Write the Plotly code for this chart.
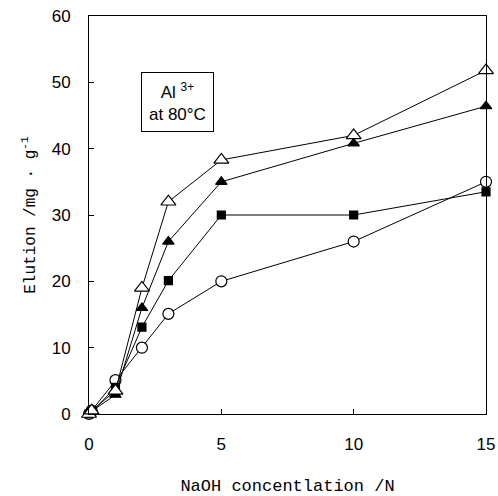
import plotly.graph_objects as go

# NaOH concentration (N)
naoh = [0, 0.1, 1, 2, 3, 5, 10, 15]

# Al3+ elution (mg/g) for four samples
elution_open_tri = [0, 0.5, 3.5, 19.0, 32.0, 38.3, 42.0, 51.8]
elution_filled_tri = [0, 0.4, 2.9, 16.0, 26.0, 35.0, 40.8, 46.4]
elution_filled_sq = [0, 0.3, 4.0, 13.1, 20.1, 30.0, 30.0, 33.5]
elution_open_circ = [0, 0.5, 5.1, 10.0, 15.1, 20.0, 26.0, 35.0]

x_ticks = [0, 5, 10, 15]
y_ticks = [0, 10, 20, 30, 40, 50, 60]

series = [
    (elution_open_circ, "circle", "white", 11),
    (elution_filled_sq, "square", "black", 8),
    (elution_filled_tri, "triangle-up", "black", 10),
    (elution_open_tri, "triangle-up", "white", 13),
]

fig = go.Figure()
for ys, sym, fill, size in series:
    fig.add_trace(go.Scatter(
        x=naoh, y=ys, mode="lines+markers",
        line=dict(color="black", width=1),
        marker=dict(symbol=sym, size=size, color=fill,
                    line=dict(color="black", width=1.2)),
        showlegend=False, cliponaxis=False,
    ))

axis_common = dict(
    showline=True, linecolor="black", linewidth=1, mirror=True,
    ticks="inside", ticklen=5, tickcolor="black", showgrid=False,
    zeroline=False, automargin=False,
    tickfont=dict(family="Liberation Sans", size=17, color="black"),
)

fig.update_xaxes(range=[0, 15], tickvals=x_ticks, ticktext=[str(v) for v in x_ticks],
                 ticklabelstandoff=15,
                 title=dict(text="NaOH concentlation /N", standoff=26,
                            font=dict(family="Liberation Mono", size=17, color="black")),
                 **axis_common)
fig.update_yaxes(range=[0, 60], tickvals=y_ticks, ticktext=[str(v) for v in y_ticks],
                 ticklabelstandoff=14,
                 title=dict(text="Elution /mg · g<sup>-1</sup>", standoff=12,
                            font=dict(family="Liberation Mono", size=16, color="black")),
                 **axis_common)

fig.add_annotation(
    x=0.223, y=0.785, xref="paper", yref="paper", xanchor="center", yanchor="middle",
    text="Al <sup>3+</sup><br>at 80°C", showarrow=False, align="center",
    font=dict(family="Liberation Sans", size=17, color="black"),
    bordercolor="black", borderwidth=1, borderpad=7, bgcolor="white",
)

fig.update_layout(
    width=498, height=496,
    margin=dict(l=89, r=12, t=16, b=82),
    paper_bgcolor="white", plot_bgcolor="white",
)

fig.write_html("out.html")
